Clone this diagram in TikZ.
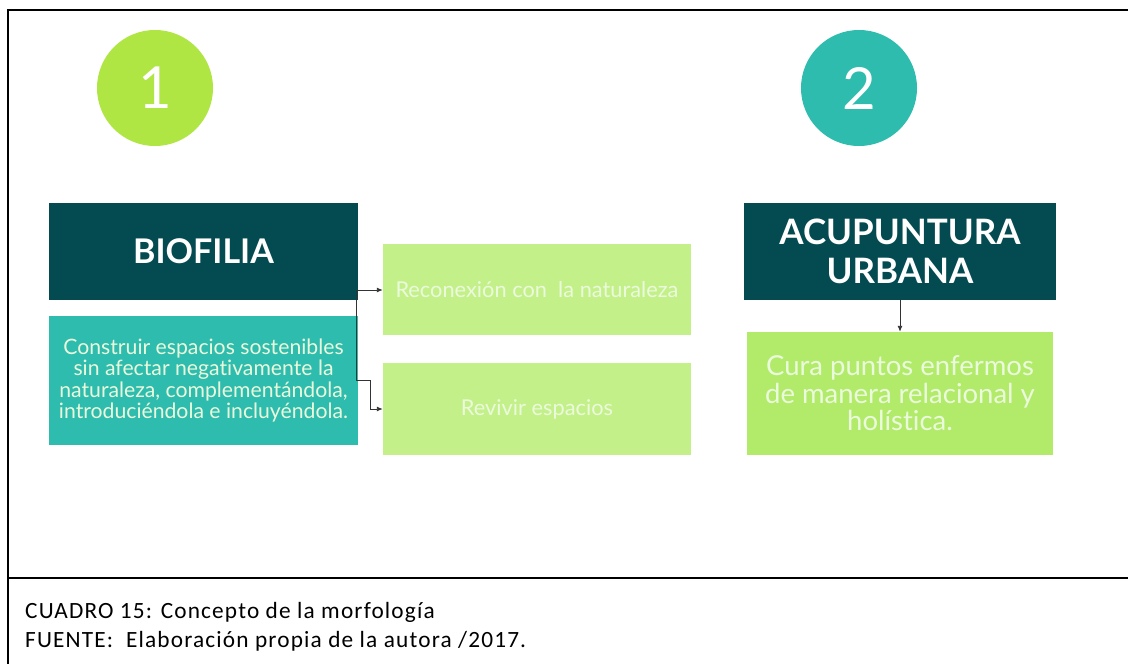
\documentclass[tikz,border=0pt]{standalone}
\usepackage{fontspec}
\usetikzlibrary{arrows.meta}
\newfontfamily\ralew[Ligatures={NoCommon,NoRare,NoDiscretionary}]{Lato}
\newfontfamily\capfont[LetterSpace=5]{Carlito}
\definecolor{darkteal}{RGB}{3,75,80}
\definecolor{tealbox}{RGB}{45,188,174}
\definecolor{limecirc}{RGB}{176,230,68}
\definecolor{lightgreen}{RGB}{196,240,138}
\definecolor{curagreen}{RGB}{178,235,106}
\definecolor{txtlight}{RGB}{235,250,220}
\tikzset{
  x=1pt, y=-1pt,
  boxnode/.style={rectangle, inner sep=0pt, align=center},
  circnode/.style={circle, inner sep=0pt, minimum size=116pt, text=white, font=\ralew\fontsize{58}{58}\selectfont},
  conn/.style={draw=black!80, line width=0.9pt, -{Latex[length=6pt,width=5pt]}},
  frameline/.style={draw=black, line width=2.2pt},
  captext/.style={anchor=base west, inner sep=0pt, font=\capfont\fontsize{23.3}{28}\selectfont}
}
\begin{document}
\begin{tikzpicture}
\useasboundingbox (0,0) rectangle (1128,664);
\fill[white] (0,0) rectangle (1128,664);
% frame
\draw[frameline] (8,664) -- (8,10) -- (1128,10);
\draw[frameline] (8,578) -- (1128,578);
% circles
\node[circnode, fill=limecirc] (c1) at (155,88) {1};
\node[circnode, fill=tealbox] (c2) at (859,88) {2};
% left column
\node[boxnode, fill=darkteal, minimum width=309pt, minimum height=97pt, text=white,
  font=\ralew\bfseries\fontsize{34}{34}\selectfont] (bio) at (203.5,251.5) {BIOFILIA};
\node[boxnode, fill=tealbox, minimum width=309pt, minimum height=129pt, text=txtlight,
  font=\ralew\fontsize{21.2}{21.5}\selectfont] (constr) at (203.5,380.5)
  {Construir espacios sostenibles\\sin afectar negativamente la\\naturaleza, complementándola,\\introduciéndola e incluyéndola.};
\node[boxnode, fill=lightgreen, minimum width=308pt, minimum height=91pt, text=txtlight,
  font=\ralew\fontsize{21.8}{24}\selectfont] (recon) at (537,289.5) {Reconexión con\ \ la naturaleza};
\node[boxnode, fill=lightgreen, minimum width=308pt, minimum height=92pt, text=txtlight,
  font=\ralew\fontsize{21.8}{24}\selectfont] (reviv) at (537,409) {Revivir espacios};
% right column
\node[boxnode, fill=darkteal, minimum width=312pt, minimum height=97pt, text=white,
  font=\ralew\bfseries\fontsize{35}{39}\selectfont] (acu) at (900,251.5) {ACUPUNTURA\\URBANA};
\node[boxnode, fill=curagreen, minimum width=306pt, minimum height=123pt, text=txtlight,
  font=\ralew\fontsize{27.5}{27.5}\selectfont] (cura) at (900,393.5) {Cura puntos enfermos\\de manera relacional y\\holística.};
% connectors
\coordinate (j) at (356,290);
\coordinate (k) at (370,380);
\draw[conn] (j) -- (recon.west |- j);
\draw[conn] (j) |- (k) |- (reviv.west);
\draw[conn] (acu.south) -- (cura.north);
% caption
\node[captext] (cap1) at (25,618) {CUADRO 15: Concepto de la morfología};
\node[captext] (cap2) at (25,647) {FUENTE:\ \ Elaboración propia de la autora /2017.};
\end{tikzpicture}
\end{document}
